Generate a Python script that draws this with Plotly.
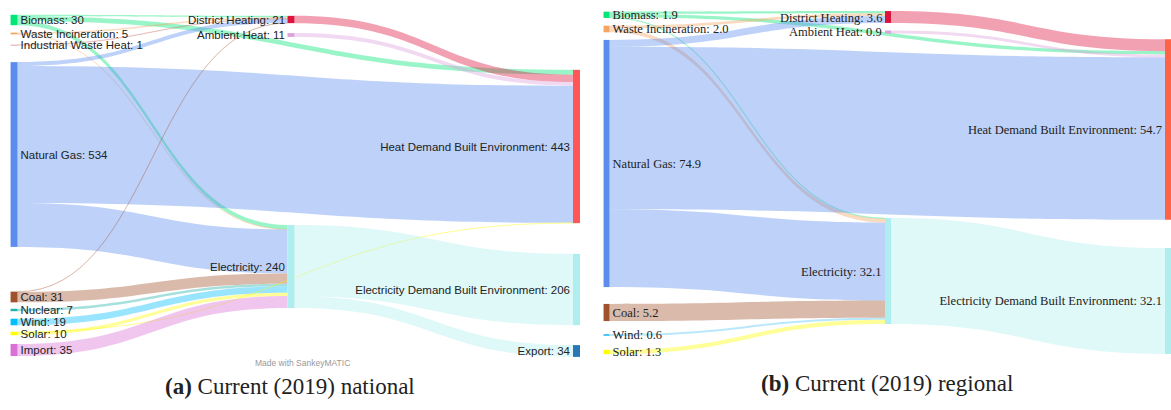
import plotly.graph_objects as go

FIG_W, FIG_H = 1171, 410

# ---------------- (a) national energy flows ----------------
nat_nodes = [
    "Biomass", "Waste Incineration", "Industrial Waste Heat", "Natural Gas",
    "Coal", "Nuclear", "Wind", "Solar", "Import",
    "District Heating", "Ambient Heat", "Electricity",
    "Heat Demand Built Environment", "Electricity Demand Built Environment", "Export",
]
nat_src = ["Biomass", "Biomass", "Biomass",
           "Waste Incineration", "Waste Incineration",
           "Industrial Waste Heat",
           "Natural Gas", "Natural Gas", "Natural Gas",
           "Coal", "Coal",
           "Nuclear", "Wind", "Solar", "Solar", "Import",
           "District Heating", "Ambient Heat",
           "Electricity", "Electricity"]
nat_tgt = ["District Heating", "Heat Demand Built Environment", "Electricity",
           "District Heating", "Electricity",
           "District Heating",
           "District Heating", "Heat Demand Built Environment", "Electricity",
           "District Heating", "Electricity",
           "Electricity", "Electricity", "Electricity", "Heat Demand Built Environment", "Electricity",
           "Heat Demand Built Environment", "Heat Demand Built Environment",
           "Electricity Demand Built Environment", "Export"]
nat_val = [4, 14, 12,
           4, 1,
           1,
           11, 396, 127,
           1, 30,
           7, 19, 9, 1, 35,
           21, 11,
           206, 34]

# ---------------- (b) regional energy flows ----------------
reg_nodes = [
    "Biomass", "Waste Incineration", "Natural Gas", "Coal", "Wind", "Solar",
    "District Heating", "Ambient Heat", "Electricity",
    "Heat Demand Built Environment", "Electricity Demand Built Environment",
]
reg_src = ["Biomass", "Biomass", "Biomass",
           "Waste Incineration", "Waste Incineration",
           "Natural Gas", "Natural Gas", "Natural Gas",
           "Coal", "Wind", "Solar",
           "District Heating", "Ambient Heat", "Electricity"]
reg_tgt = ["District Heating", "Heat Demand Built Environment", "Electricity",
           "District Heating", "Electricity",
           "District Heating", "Heat Demand Built Environment", "Electricity",
           "Electricity", "Electricity", "Electricity",
           "Heat Demand Built Environment", "Heat Demand Built Environment",
           "Electricity Demand Built Environment"]
reg_val = [0.7, 1.0, 0.2,
           0.8, 1.2,
           2.1, 49.2, 23.6,
           5.2, 0.6, 1.3,
           3.6, 0.9, 32.1]

captions = ["<b>(a)</b> Current (2019) national", "<b>(b)</b> Current (2019) regional"]

# middle-column nodes get their labels on the left-hand side
middle = {"District Heating", "Ambient Heat", "Electricity"}

# ---------------- styling ----------------
nat_colors = {
    "Biomass": "#00e676", "Waste Incineration": "#f4a460", "Industrial Waste Heat": "#c0504d",
    "Natural Gas": "#5b8def", "Coal": "#a0522d", "Nuclear": "#20b2aa", "Wind": "#00bfff",
    "Solar": "#ffff00", "Import": "#da70d6", "District Heating": "#dc143c",
    "Ambient Heat": "#dda0dd", "Electricity": "#aeeeee",
    "Heat Demand Built Environment": "#ff5757",
    "Electricity Demand Built Environment": "#aeeeee", "Export": "#2878b8",
}
reg_colors = dict(nat_colors)
reg_colors.update({"Wind": "#4fc3f7", "Heat Demand Built Environment": "#ff6347"})

# node centres in pixels (layout of the columns)
nat_px = {
    "Biomass": (13.5, 20), "Waste Incineration": (13.5, 33.5), "Industrial Waste Heat": (13.5, 45),
    "Natural Gas": (13.5, 154.5), "Coal": (13.5, 297), "Nuclear": (13.5, 310),
    "Wind": (13.5, 322), "Solar": (13.5, 333.5), "Import": (13.5, 350),
    "District Heating": (291, 19.5), "Ambient Heat": (291, 35), "Electricity": (291, 266.5),
    "Heat Demand Built Environment": (576.5, 146.5),
    "Electricity Demand Built Environment": (576.5, 289.5), "Export": (576.5, 351),
}
reg_px = {
    "Biomass": (606, 14.8), "Waste Incineration": (606, 29), "Natural Gas": (606, 163.5),
    "Coal": (606, 312.5), "Wind": (606, 335), "Solar": (606, 352),
    "District Heating": (888, 17), "Ambient Heat": (888, 32), "Electricity": (888, 271),
    "Heat Demand Built Environment": (1168, 129.5),
    "Electricity Demand Built Environment": (1168, 301),
}


def rgba(hex_color, alpha):
    h = hex_color.lstrip("#")
    r, g, b = int(h[0:2], 16), int(h[2:4], 16), int(h[4:6], 16)
    return f"rgba({r},{g},{b},{alpha})"


def fmt(v, decimals):
    return f"{v:.{decimals}f}"


def build(fig, nodes, src, tgt, val, colors, px, box, ky, decimals, font, thickness):
    idx = {n: i for i, n in enumerate(nodes)}
    inflow = {n: 0.0 for n in nodes}
    outflow = {n: 0.0 for n in nodes}
    for s, t, v in zip(src, tgt, val):
        outflow[s] += v
        inflow[t] += v
    totals = [max(inflow[n], outflow[n]) for n in nodes]
    labels = [f"{n}: {fmt(v, decimals)}" for n, v in zip(nodes, totals)]

    x0, x1, y0, y1 = box
    w, h = x1 - x0, y1 - y0
    xs = [max(0.001, (px[n][0] - x0) / w) for n in nodes]
    ys = [max(0.001, (px[n][1] - y0) / h) for n in nodes]

    # padding chosen so the value scale (px per unit) equals ky in the tallest column
    first_col = [n for n in nodes if inflow[n] == 0]
    pad = (h - ky * sum(totals[idx[n]] for n in first_col)) / (len(first_col) - 1)

    # hairline links are stroked by plotly, so draw them with a lighter tint
    link_colors = [rgba(colors[s], 0.4 if v * ky >= 1 else 0.2) for s, v in zip(src, val)]

    fig.add_trace(go.Sankey(
        arrangement="fixed",
        domain=dict(x=[x0 / FIG_W, x1 / FIG_W], y=[1 - y1 / FIG_H, 1 - y0 / FIG_H]),
        node=dict(
            label=["" if n in middle else lab for n, lab in zip(nodes, labels)],
            x=xs, y=ys, pad=pad, thickness=thickness,
            color=[colors[n] for n in nodes], line=dict(width=0),
            hoverinfo="none",
        ),
        link=dict(
            source=[idx[s] for s in src], target=[idx[t] for t in tgt], value=val,
            color=link_colors, hoverinfo="none",
        ),
        textfont=dict(font, shadow="none"),
    ))

    # labels of the middle column, right-aligned against their node
    for n, lab in zip(nodes, labels):
        if n in middle:
            cx, cy = px[n]
            fig.add_annotation(
                text=lab, x=(cx - thickness / 2 - 2) / FIG_W, y=1 - (cy + 0.5) / FIG_H,
                xref="paper", yref="paper", showarrow=False,
                xanchor="right", yanchor="middle", borderpad=0,
                font=font,
            )


fig = go.Figure()
build(fig, nat_nodes, nat_src, nat_tgt, nat_val, nat_colors, nat_px,
      (13.5, 576.5, 10, 360), 0.346, 0,
      dict(family="Liberation Sans, Arial", size=11.5, color="#222"), 7)
build(fig, reg_nodes, reg_src, reg_tgt, reg_val, reg_colors, reg_px,
      (606, 1168, 8, 360), 3.3, 1,
      dict(family="Liberation Serif, Times New Roman", size=12.5, color="#222"), 6)

fig.add_annotation(text="Made with SankeyMATIC", x=302 / FIG_W, y=1 - 363 / FIG_H,
                   xref="paper", yref="paper", showarrow=False,
                   xanchor="center", yanchor="middle",
                   font=dict(family="Liberation Sans, Arial", size=8.5, color="#999"))
fig.add_annotation(text=captions[0], x=290 / FIG_W, y=1 - 386 / FIG_H,
                   xref="paper", yref="paper", showarrow=False,
                   xanchor="center", yanchor="middle",
                   font=dict(family="Liberation Serif, serif", size=23, color="#222"))
fig.add_annotation(text=captions[1], x=887 / FIG_W, y=1 - 383 / FIG_H,
                   xref="paper", yref="paper", showarrow=False,
                   xanchor="center", yanchor="middle",
                   font=dict(family="Liberation Serif, serif", size=23, color="#222"))

fig.update_layout(
    width=FIG_W, height=FIG_H,
    margin=dict(l=0, r=0, t=0, b=0),
    paper_bgcolor="white", plot_bgcolor="white",
    showlegend=False,
)

fig.write_html("out.html")
